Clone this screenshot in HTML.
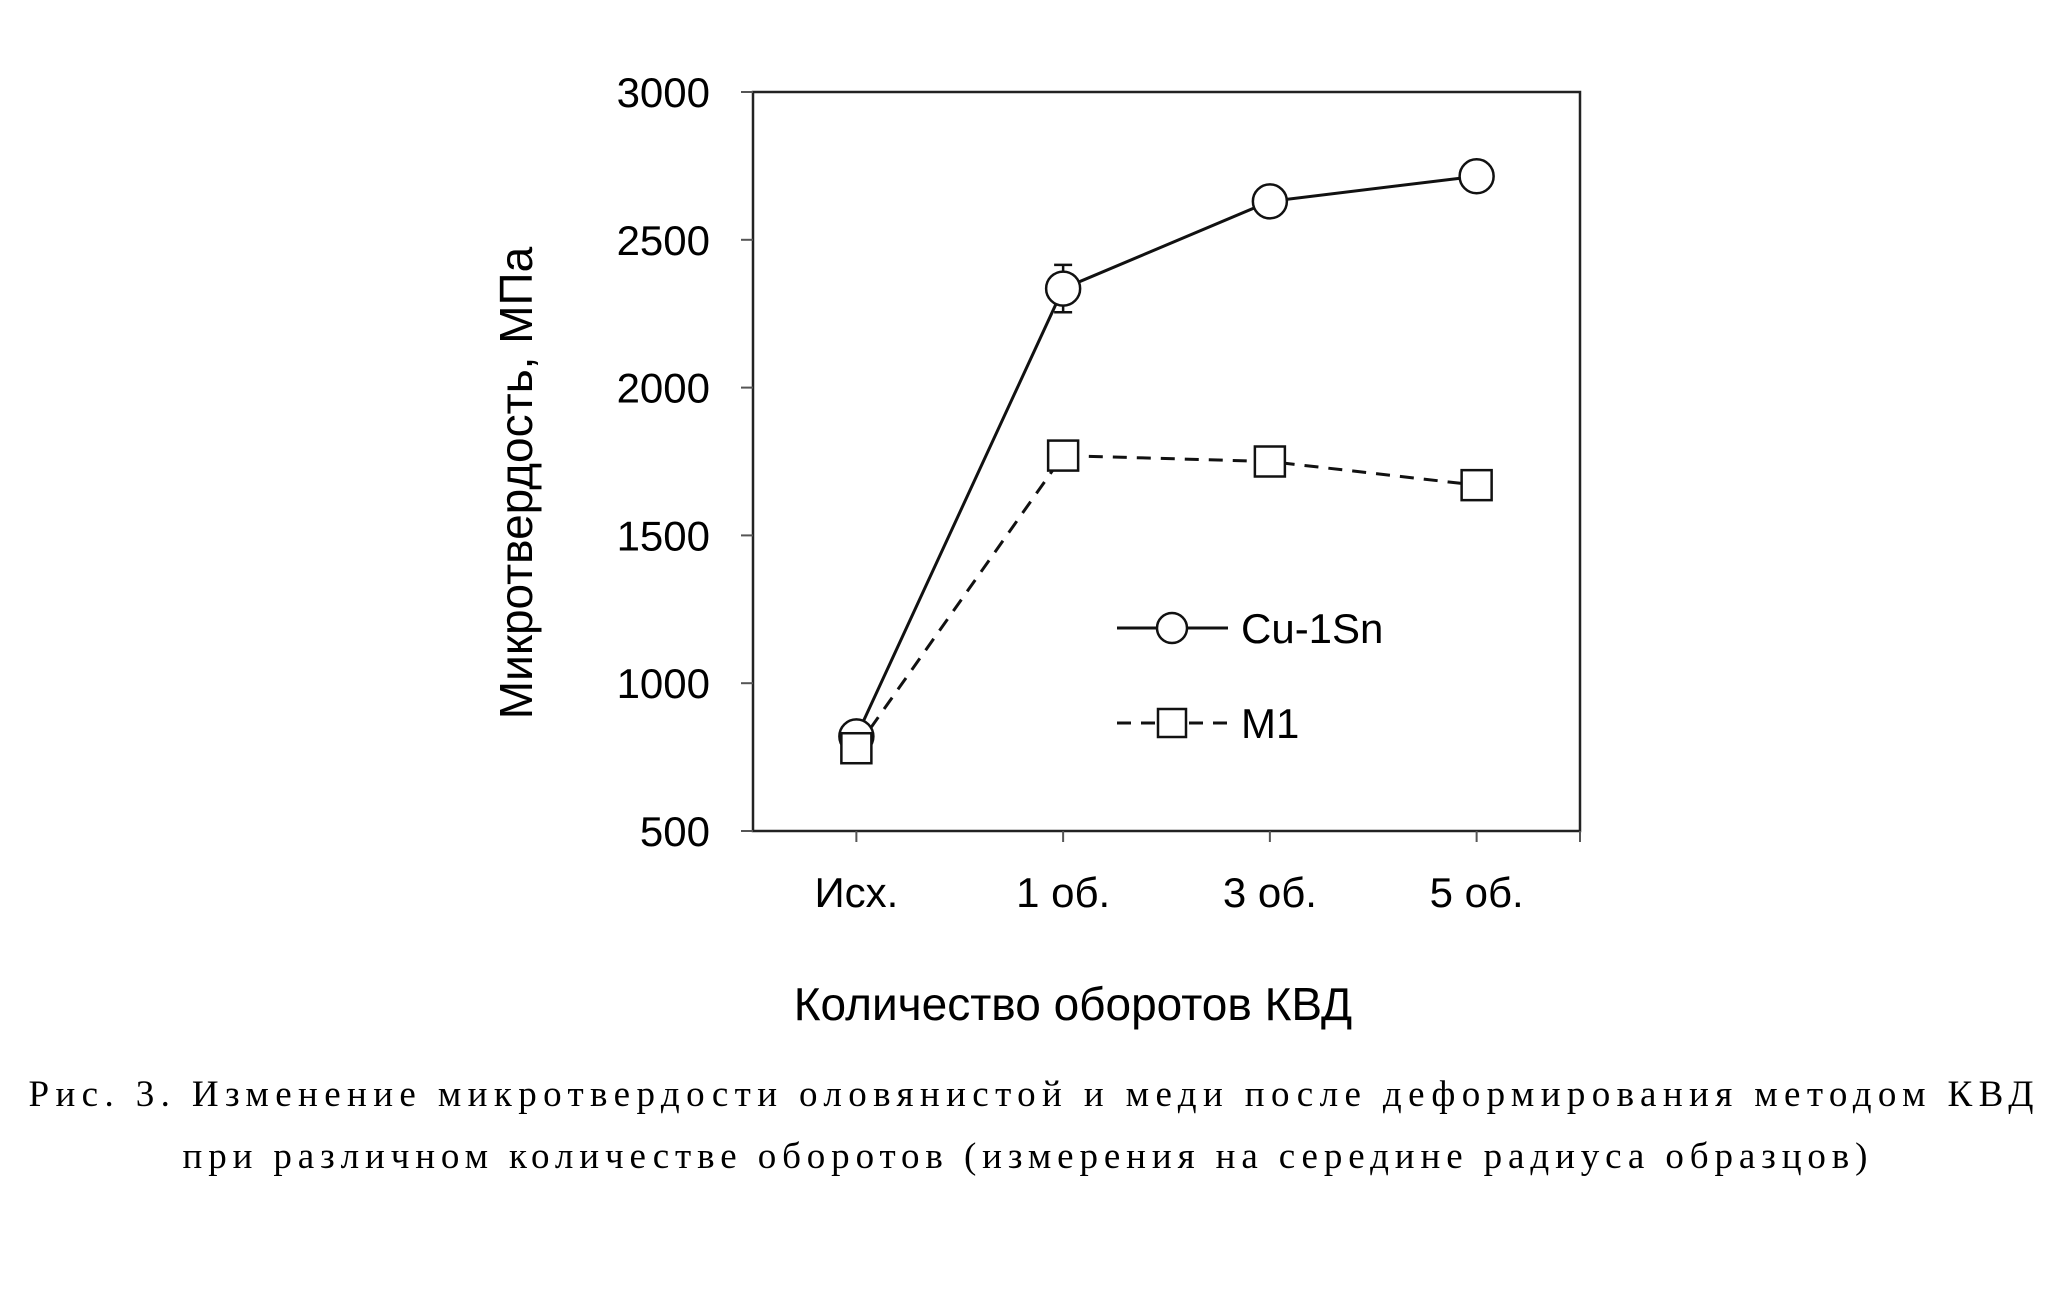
<!DOCTYPE html>
<html><head><meta charset="utf-8"><style>body{margin:0;background:#fff}svg{display:block}</style></head>
<body>
<svg id="chart" width="2060" height="1292" viewBox="0 0 2060 1292" xmlns="http://www.w3.org/2000/svg" font-family="Liberation Sans, DejaVu Sans, sans-serif">
<rect width="2060" height="1292" fill="#fff"/>
<g id="plot"></g>
<text x="0" y="0" transform="translate(532,483) rotate(-90)" text-anchor="middle" font-size="46">Микротвердость, МПа</text>
<text x="1073" y="1020" text-anchor="middle" font-size="46">Количество оборотов КВД</text>
<text x="1031" y="1106" text-anchor="middle" font-family="Liberation Serif, serif" font-size="37" textLength="2005">Рис. 3. Изменение микротвердости оловянистой и меди после деформирования методом КВД</text>
<text x="1025" y="1168" text-anchor="middle" font-family="Liberation Serif, serif" font-size="37" textLength="1685">при различном количестве оборотов (измерения на середине радиуса образцов)</text>
</svg>
<script>
const categories = ["Исх.", "1 об.", "3 об.", "5 об."];
const cuSn = [820, 2335, 2630, 2715];
const cuSnErr = [0, 80, 0, 0];
const m1 = [780, 1770, 1750, 1670];
const yTicks = [500, 1000, 1500, 2000, 2500, 3000];

const NS = "http://www.w3.org/2000/svg";
const L = 753, R = 1580, T = 92, B = 831;
const yMin = 500, yMax = 3000;
const y = v => B - (v - yMin) / (yMax - yMin) * (B - T);
const band = (R - L) / categories.length;
const x = i => L + band * (i + 0.5);
const g = document.getElementById("plot");
function mk(tag, attrs, parent) {
  const e = document.createElementNS(NS, tag);
  for (const k in attrs) e.setAttribute(k, attrs[k]);
  (parent || g).appendChild(e);
  return e;
}
let e;
e = mk("rect", {x: L, y: T, width: R - L, height: B - T, fill: "none", stroke: "#222", "stroke-width": 2.5});


yTicks.forEach(t => {
  const tk = mk("line", {x1: L - 12, x2: L, y1: y(t), y2: y(t), stroke: "#555", "stroke-width": 2});
  
  
  const lb = mk("text", {x: 710, y: y(t) + 15, "text-anchor": "end", "font-size": 42});
  lb.textContent = t;
  
  
});
for (let i = 0; i <= categories.length; i++) {
  const tx = L + band * i;
}
categories.forEach((c, i) => {
  const tk = mk("line", {x1: x(i), x2: x(i), y1: B, y2: B + 11, stroke: "#555", "stroke-width": 2});
  
  
  const lb = mk("text", {x: x(i), y: 907, "text-anchor": "middle", "font-size": 42});
  lb.textContent = c;
  
  
});
const edge = mk("line", {x1: R, x2: R, y1: B, y2: B + 11, stroke: "#555", "stroke-width": 2});



// M1 line
e = mk("polyline", {points: m1.map((v, i) => x(i) + "," + y(v)).join(" "), fill: "none", stroke: "#111", "stroke-width": 3, "stroke-dasharray": "14,10"});


// Cu-1Sn line
e = mk("polyline", {points: cuSn.map((v, i) => x(i) + "," + y(v)).join(" "), fill: "none", stroke: "#111", "stroke-width": 3});


// error bars
cuSn.forEach((v, i) => {
  if (!cuSnErr[i]) return;
  const eb = mk("path", {d: `M${x(i)},${y(v + cuSnErr[i])}V${y(v - cuSnErr[i])}M${x(i) - 9},${y(v + cuSnErr[i])}h18M${x(i) - 9},${y(v - cuSnErr[i])}h18`, stroke: "#111", "stroke-width": 2.5, fill: "none"});
  
  
});
cuSn.forEach((v, i) => {
  const c = mk("circle", {cx: x(i), cy: y(v), r: 17, fill: "#fff", stroke: "#111", "stroke-width": 2.5});
  
  
});
m1.forEach((v, i) => {
  const s = mk("rect", {x: x(i) - 15, y: y(v) - 15, width: 30, height: 30, fill: "#fff", stroke: "#111", "stroke-width": 2.5});
  
  
});
// legend
const lg = mk("g", {});


e = mk("line", {x1: 1117, x2: 1228, y1: 628, y2: 628, stroke: "#111", "stroke-width": 3}, lg);


e = mk("circle", {cx: 1172, cy: 628, r: 15, fill: "#fff", stroke: "#111", "stroke-width": 2.5}, lg);


e = mk("text", {x: 1241, y: 643, "font-size": 42}, lg);
e.textContent = "Cu-1Sn";


e = mk("line", {x1: 1117, x2: 1228, y1: 723, y2: 723, stroke: "#111", "stroke-width": 3, "stroke-dasharray": "14,10"}, lg);


e = mk("rect", {x: 1158, y: 709, width: 28, height: 28, fill: "#fff", stroke: "#111", "stroke-width": 2.5}, lg);


e = mk("text", {x: 1241, y: 738, "font-size": 42}, lg);
e.textContent = "M1";


</script>
</body></html>
